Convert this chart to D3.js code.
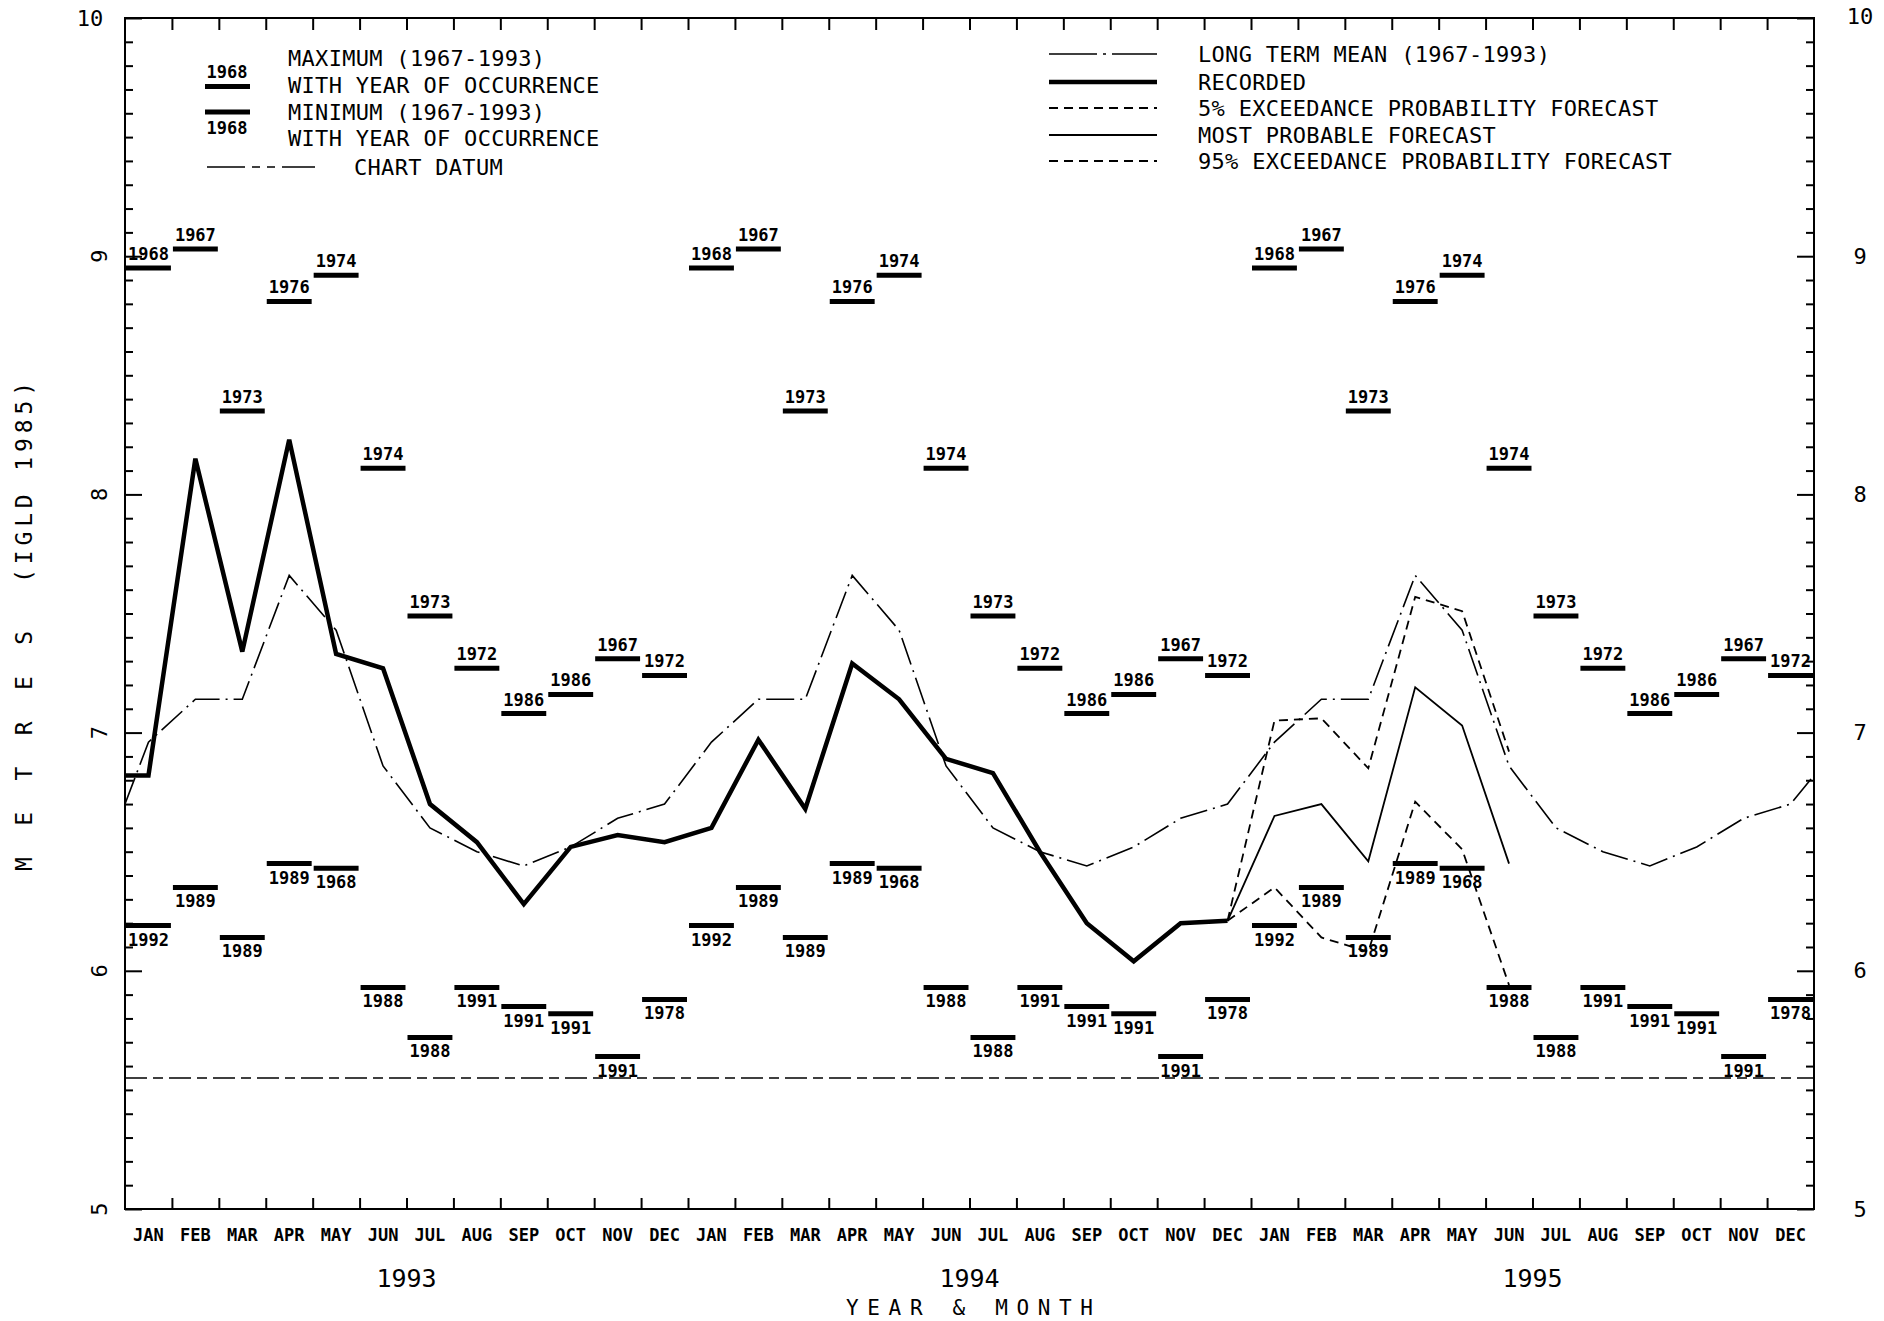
<!DOCTYPE html>
<html>
<head>
<meta charset="utf-8">
<script src="https://cdn.jsdelivr.net/npm/d3@7"></script>
<style>
  body { margin: 0; background: #fff; }
  text { font-family: "DejaVu Sans Mono", "Liberation Mono", monospace; fill: #000; }
</style>
</head>
<body>
<svg width="1884" height="1321"></svg>
<script>
var months = ["JAN", "FEB", "MAR", "APR", "MAY", "JUN", "JUL", "AUG", "SEP", "OCT", "NOV", "DEC"];
var years = ["1993", "1994", "1995"];

// monthly statistics 1967-1993 (same for every year shown)
var maxLevel = [8.95, 9.03, 8.35, 8.81, 8.92, 8.11, 7.49, 7.27, 7.08, 7.16, 7.31, 7.24];
var maxYear = ["1968", "1967", "1973", "1976", "1974", "1974", "1973", "1972", "1986", "1986", "1967", "1972"];
var minLevel = [6.19, 6.35, 6.14, 6.45, 6.43, 5.93, 5.72, 5.93, 5.85, 5.82, 5.64, 5.88];
var minYear = ["1992", "1989", "1989", "1989", "1968", "1988", "1988", "1991", "1991", "1991", "1991", "1978"];
var longTermMean = [6.96, 7.14, 7.14, 7.66, 7.43, 6.86, 6.60, 6.50, 6.44, 6.52, 6.64, 6.70];
var longTermMeanEnd = 6.82;
var chartDatum = 5.55;

// recorded Jan 1993 - Dec 1994, with the Dec 1992 value at the left edge
var recordedPrev = 6.82;
var recorded = [6.82, 8.15, 7.34, 8.23, 7.33, 7.27, 6.70, 6.54, 6.28, 6.52, 6.57, 6.54,
                6.60, 6.97, 6.68, 7.29, 7.14, 6.89, 6.83, 6.50, 6.20, 6.04, 6.20, 6.21];

// forecasts Jan - Jun 1995
var forecast5 = [7.05, 7.06, 6.85, 7.57, 7.51, 6.92];
var forecastMost = [6.65, 6.70, 6.46, 7.19, 7.03, 6.45];
var forecast95 = [6.35, 6.14, 6.08, 6.71, 6.51, 5.94];

var svg = d3.select("svg"),
    plotLeft = 125, plotRight = 1814, plotTop = 18, plotBottom = 1209,
    nMonths = months.length * years.length;

var x = d3.scaleLinear().domain([0, nMonths]).range([plotLeft, plotRight]);
var y = d3.scaleLinear().domain([5, 10]).range([plotBottom, plotTop]);

var dashLTM = "28,6,2,6",
    dashFc = "9,6",
    dashDatum = "22,6,10,6";

// frame
svg.append("rect")
    .attr("x", plotLeft).attr("y", plotTop)
    .attr("width", plotRight - plotLeft).attr("height", plotBottom - plotTop)
    .attr("fill", "none").attr("stroke", "#000").attr("stroke-width", 2);

var minorTicks = d3.range(51).map(function(i) { return 5 + i / 10; }).filter(function(v) { return Math.abs(v - Math.round(v)) > 0.01; }),
    majorTicks = [5, 6, 7, 8, 9, 10],
    monthEdges = d3.range(1, nMonths);

function tickAxis(axis, tx, ty, values, size) {
  var g = svg.append("g")
      .attr("transform", "translate(" + tx + "," + ty + ")")
      .call(axis.tickValues(values).tickSize(size).tickFormat(""));
  g.select(".domain").remove();
  g.selectAll("line").attr("stroke", "#000").attr("stroke-width", 2);
}

tickAxis(d3.axisRight(y), plotLeft, 0, minorTicks, 8);
tickAxis(d3.axisRight(y), plotLeft, 0, majorTicks, 17);
tickAxis(d3.axisLeft(y), plotRight, 0, minorTicks, 8);
tickAxis(d3.axisLeft(y), plotRight, 0, majorTicks, 17);
tickAxis(d3.axisBottom(x), 0, plotTop, monthEdges, 12);
tickAxis(d3.axisTop(x), 0, plotBottom, monthEdges, 11);

// y tick labels
svg.append("text").attr("x", 90).attr("y", y(10))
    .attr("text-anchor", "middle").attr("dominant-baseline", "central")
    .style("font-size", "22px").text("10");
svg.selectAll(".ylabL").data(majorTicks.slice(0, 5)).enter().append("text")
    .attr("transform", function(d) { return "translate(99," + y(d) + ") rotate(-90)"; })
    .attr("text-anchor", "middle").attr("dominant-baseline", "central")
    .style("font-size", "22px").text(function(d) { return d; });
svg.selectAll(".ylabR").data(majorTicks).enter().append("text")
    .attr("x", 1860).attr("y", function(d) { return d === 10 ? y(d) - 2 : y(d); })
    .attr("text-anchor", "middle").attr("dominant-baseline", "central")
    .style("font-size", "22px").text(function(d) { return d; });

// month and year labels
svg.selectAll(".mlab").data(d3.range(nMonths)).enter().append("text")
    .attr("x", function(i) { return x(i + 0.5); }).attr("y", 1235)
    .attr("text-anchor", "middle").attr("dominant-baseline", "central")
    .style("font-size", "17px").style("font-weight", "bold")
    .text(function(i) { return months[i % 12]; });
svg.selectAll(".ylab").data(years).enter().append("text")
    .attr("x", function(d, i) { return x(i * 12 + 6); }).attr("y", 1278)
    .attr("text-anchor", "middle").attr("dominant-baseline", "central")
    .style("font-size", "25px").text(function(d) { return d; });
svg.append("text").attr("x", x(18)).attr("y", 1308)
    .attr("text-anchor", "middle").attr("dominant-baseline", "central")
    .attr("textLength", 247).attr("lengthAdjust", "spacing")
    .style("font-size", "21px").text("YEAR & MONTH");

// y title, rotated
svg.append("text").attr("transform", "translate(24,871) rotate(-90)")
    .attr("dominant-baseline", "central")
    .attr("textLength", 240).attr("lengthAdjust", "spacing")
    .style("font-size", "23px").text("METRES");
svg.append("text").attr("transform", "translate(24,583) rotate(-90)")
    .attr("dominant-baseline", "central")
    .attr("textLength", 201).attr("lengthAdjust", "spacing")
    .style("font-size", "23px").text("(IGLD 1985)");

// max / min bars with year of occurrence
var cells = d3.range(nMonths).map(function(i) { return { i: i, m: i % 12 }; });

svg.selectAll(".maxbar").data(cells).enter().append("line")
    .attr("x1", function(d) { return x(d.i) + 1; }).attr("x2", function(d) { return x(d.i + 1) - 1; })
    .attr("y1", function(d) { return y(maxLevel[d.m]); }).attr("y2", function(d) { return y(maxLevel[d.m]); })
    .attr("stroke", "#000").attr("stroke-width", 5);
svg.selectAll(".maxlab").data(cells).enter().append("text")
    .attr("x", function(d) { return x(d.i + 0.5); }).attr("y", function(d) { return y(maxLevel[d.m]) - 8; })
    .attr("text-anchor", "middle")
    .style("font-size", "17px").style("font-weight", "bold")
    .text(function(d) { return maxYear[d.m]; });

svg.selectAll(".minbar").data(cells).enter().append("line")
    .attr("x1", function(d) { return x(d.i) + 1; }).attr("x2", function(d) { return x(d.i + 1) - 1; })
    .attr("y1", function(d) { return y(minLevel[d.m]); }).attr("y2", function(d) { return y(minLevel[d.m]); })
    .attr("stroke", "#000").attr("stroke-width", 5);
svg.selectAll(".minlab").data(cells).enter().append("text")
    .attr("x", function(d) { return x(d.i + 0.5); }).attr("y", function(d) { return y(minLevel[d.m]) + 20; })
    .attr("text-anchor", "middle")
    .style("font-size", "17px").style("font-weight", "bold")
    .text(function(d) { return minYear[d.m]; });

// chart datum
svg.append("line")
    .attr("x1", x(0)).attr("x2", x(nMonths))
    .attr("y1", y(chartDatum)).attr("y2", y(chartDatum))
    .attr("stroke", "#000").attr("stroke-width", 1.5).attr("stroke-dasharray", dashDatum);

// series
var line = d3.line()
    .x(function(d) { return x(d.t); })
    .y(function(d) { return y(d.v); });

var ltmPoints = [{ t: 0, v: longTermMean[11] }]
    .concat(d3.range(nMonths).map(function(i) { return { t: i + 0.5, v: longTermMean[i % 12] }; }))
    .concat([{ t: nMonths, v: longTermMeanEnd }]);

var recPoints = [{ t: 0, v: recordedPrev }]
    .concat(recorded.map(function(v, i) { return { t: i + 0.5, v: v }; }));

var last = recPoints[recPoints.length - 1];
function forecastPoints(arr) {
  return [last].concat(arr.map(function(v, i) { return { t: recorded.length + i + 0.5, v: v }; }));
}

svg.append("path").datum(ltmPoints).attr("d", line)
    .attr("fill", "none").attr("stroke", "#000").attr("stroke-width", 1.6)
    .attr("stroke-dasharray", dashLTM);
svg.append("path").datum(forecastPoints(forecast5)).attr("d", line)
    .attr("fill", "none").attr("stroke", "#000").attr("stroke-width", 1.8)
    .attr("stroke-dasharray", dashFc);
svg.append("path").datum(forecastPoints(forecast95)).attr("d", line)
    .attr("fill", "none").attr("stroke", "#000").attr("stroke-width", 1.8)
    .attr("stroke-dasharray", dashFc);
svg.append("path").datum(forecastPoints(forecastMost)).attr("d", line)
    .attr("fill", "none").attr("stroke", "#000").attr("stroke-width", 1.8);
svg.append("path").datum(recPoints).attr("d", line)
    .attr("fill", "none").attr("stroke", "#000").attr("stroke-width", 4.5)
    .attr("stroke-linejoin", "miter");

// left legend
var legL = svg.append("g");
legL.append("line").attr("x1", 205).attr("x2", 250).attr("y1", 86.5).attr("y2", 86.5)
    .attr("stroke", "#000").attr("stroke-width", 5);
legL.append("text").attr("x", 227).attr("y", 78).attr("text-anchor", "middle")
    .style("font-size", "17px").style("font-weight", "bold").text("1968");
legL.append("line").attr("x1", 205).attr("x2", 250).attr("y1", 112).attr("y2", 112)
    .attr("stroke", "#000").attr("stroke-width", 5);
legL.append("text").attr("x", 227).attr("y", 134).attr("text-anchor", "middle")
    .style("font-size", "17px").style("font-weight", "bold").text("1968");
legL.append("line").attr("x1", 207).attr("x2", 315).attr("y1", 167).attr("y2", 167)
    .attr("stroke", "#000").attr("stroke-width", 1.5).attr("stroke-dasharray", "38,7,8,7,8,7");
var legLText = ["MAXIMUM (1967-1993)", "WITH YEAR OF OCCURRENCE", "MINIMUM (1967-1993)", "WITH YEAR OF OCCURRENCE"];
legL.selectAll(".t").data(legLText).enter().append("text")
    .attr("x", 288).attr("y", function(d, i) { return [58, 85, 112, 138][i]; })
    .attr("dominant-baseline", "central")
    .style("font-size", "22px").style("letter-spacing", "0.3px")
    .text(function(d) { return d; });
legL.append("text").attr("x", 354).attr("y", 167).attr("dominant-baseline", "central")
    .style("font-size", "22px").style("letter-spacing", "0.3px").text("CHART DATUM");

// right legend
var legR = [
  { label: "LONG TERM MEAN (1967-1993)", w: 1.6, dash: "48,6,3,6" },
  { label: "RECORDED", w: 4.5, dash: null },
  { label: "5% EXCEEDANCE PROBABILITY FORECAST", w: 1.8, dash: dashFc },
  { label: "MOST PROBABLE FORECAST", w: 1.8, dash: null },
  { label: "95% EXCEEDANCE PROBABILITY FORECAST", w: 1.8, dash: dashFc }
];
var legRy = [54, 82, 108, 135, 161];
var rg = svg.selectAll(".legR").data(legR).enter().append("g")
    .attr("transform", function(d, i) { return "translate(0," + legRy[i] + ")"; });
rg.append("line").attr("x1", 1049).attr("x2", 1157)
    .attr("stroke", "#000").attr("stroke-width", function(d) { return d.w; })
    .attr("stroke-dasharray", function(d) { return d.dash; });
rg.append("text").attr("x", 1198).attr("dominant-baseline", "central")
    .style("font-size", "22px").style("letter-spacing", "0.3px")
    .text(function(d) { return d.label; });
</script>
</body>
</html>
